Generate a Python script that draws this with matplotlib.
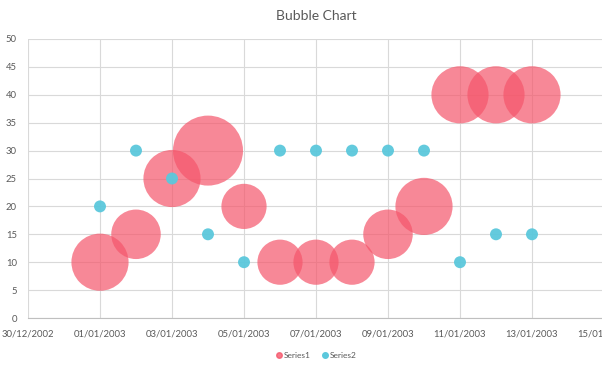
import matplotlib
matplotlib.use("Agg")
import matplotlib.pyplot as plt
import matplotlib.dates as mdates
from matplotlib.lines import Line2D
import numpy as np
import datetime as dt

dates = ["2003-01-01", "2003-01-02", "2003-01-03", "2003-01-04", "2003-01-05",
         "2003-01-06", "2003-01-07", "2003-01-08", "2003-01-09", "2003-01-10",
         "2003-01-11", "2003-01-12", "2003-01-13"]
series1_y = [10, 15, 25, 30, 20, 10, 10, 10, 15, 20, 40, 40, 40]
series1_size = [8, 6, 8, 12, 5, 5, 5, 5, 6, 8, 8, 8, 8]
series2_y = [20, 30, 25, 15, 10, 30, 30, 30, 30, 30, 10, 15, 15]
series2_size = [0.35] * 13
y_ticks = [0, 5, 10, 15, 20, 25, 30, 35, 40, 45, 50]

plt.rcParams['font.family'] = ['Lato', 'DejaVu Sans']

W, H = 602, 366
fig = plt.figure(figsize=(W / 100, H / 100), dpi=100)
ax = fig.add_axes([28 / W, (H - 318) / H, 576 / W, 279 / H])

x = mdates.date2num([dt.datetime.strptime(d, "%Y-%m-%d") for d in dates])

max_r_px = 35.0
max_size = max(series1_size)

def to_s(sizes):
    r_px = max_r_px * np.sqrt(np.array(sizes) / max_size)
    d_pt = 2 * r_px * 0.72
    return d_pt ** 2

pink = '#F5566B'
cyan = '#5BC8DC'
ax.scatter(x, series1_y, s=to_s(series1_size), color=pink, alpha=0.7,
           edgecolors='none', clip_on=False, zorder=3)
ax.scatter(x, series2_y, s=to_s(series2_size), color=cyan, alpha=0.95,
           edgecolors='none', clip_on=False, zorder=4)

x0 = mdates.date2num(dt.datetime(2002, 12, 30))
x1 = mdates.date2num(dt.datetime(2003, 1, 15))
ax.set_xlim(x0, x1)
ax.set_ylim(0, 50)
ax.set_xticks(np.arange(x0, x1 + 0.5, 2))
ax.xaxis.set_major_formatter(mdates.DateFormatter('%d/%m/%Y'))
ax.set_yticks(y_ticks)

ax.grid(True, color='#D9D9D9', linewidth=0.8, zorder=0)
ax.set_axisbelow(True)
for s in ['top', 'right', 'left']:
    ax.spines[s].set_visible(False)
ax.spines['bottom'].set_color('#BFBFBF')
ax.tick_params(axis='both', length=0, labelsize=6.8, colors='#595959')
ax.tick_params(axis='x', pad=8)
ax.tick_params(axis='y', pad=8)

fig.text(316 / W, 1 - 16 / H, "Bubble Chart", ha='center', va='center',
         fontsize=10, color='#595959')

handles = [Line2D([], [], marker='o', linestyle='', color=pink, alpha=0.8, markersize=4),
           Line2D([], [], marker='o', linestyle='', color=cyan, markersize=4)]
fig.legend(handles, ["Series1", "Series2"], loc='center', bbox_to_anchor=(316 / W, 1 - 355 / H),
           ncol=2, frameon=False, fontsize=6, labelcolor='#595959',
           handletextpad=0.1, columnspacing=1.2, handlelength=1.0)

fig.savefig("out.png", dpi=100)
